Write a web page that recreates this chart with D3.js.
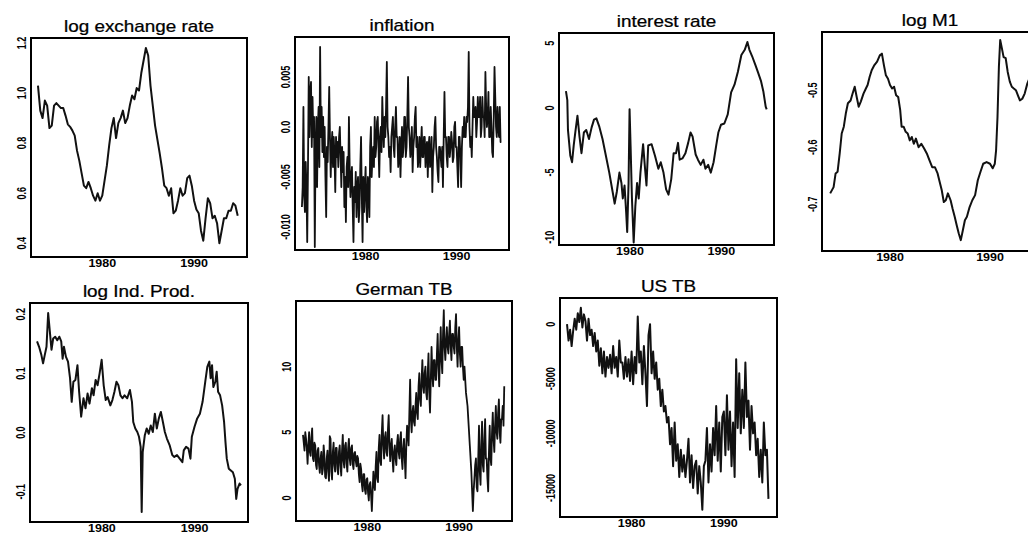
<!DOCTYPE html>
<html>
<head>
<meta charset="utf-8">
<script src="https://cdnjs.cloudflare.com/ajax/libs/d3/7.8.5/d3.min.js"></script>
<style>
  body { margin: 0; background: #fff; }
  svg { display: block; }
</style>
</head>
<body>
<svg id="chart" width="1028" height="535"></svg>
<script>
  // ---- data ----

  // log exchange rate, quarterly from 1973
  var exchangeRate = [
    1.03, 0.93, 0.90, 0.97,   0.95, 0.86, 0.87, 0.95,   0.96, 0.95, 0.94, 0.94,
    0.91, 0.875, 0.865, 0.85, 0.83, 0.77, 0.73, 0.68,   0.63, 0.62, 0.645, 0.62,
    0.59, 0.57, 0.60, 0.57,   0.59, 0.65, 0.71, 0.79,   0.86, 0.90, 0.82, 0.88,
    0.90, 0.93, 0.88, 0.90,   0.95, 0.99, 0.975, 1.02,  1.01, 1.08, 1.13, 1.18,
    1.15, 1.03, 0.95, 0.87,   0.815, 0.76, 0.70, 0.63,  0.62, 0.59, 0.62, 0.52,
    0.53, 0.57, 0.62, 0.59,   0.60, 0.66, 0.67, 0.63,   0.57, 0.535, 0.52, 0.45,
    0.41, 0.50, 0.58, 0.56,   0.50, 0.51, 0.48, 0.40,   0.45, 0.50, 0.50, 0.53,
    0.53, 0.56, 0.55, 0.51
  ];

  // inflation, monthly from 1973
  var inflation = [
    -0.0080, -0.0060, 0.0020, -0.0070, -0.0085, -0.0035, -0.0060, -0.0115, -0.0040, 0.0050, -0.0010, 0.0035,
    0.0045, -0.0020, 0.0030, -0.0010, 0.0010, -0.0120, -0.0020, 0.0010, -0.0060, 0.0000, 0.0020, -0.0040,
    0.0080, -0.0010, 0.0020, -0.0025, 0.0010, -0.0030, 0.0000, -0.0050, -0.0090, -0.0020, -0.0035, 0.0000,
    0.0040, -0.0010, -0.0050, -0.0020, -0.0005, -0.0040, -0.0010, -0.0030, -0.0065, -0.0010, -0.0030, -0.0015,
    -0.0040, -0.0010, 0.0000, -0.0030, -0.0060, -0.0020, -0.0045, -0.0025, -0.0080, -0.0050, -0.0095, -0.0040,
    -0.0030, -0.0060, 0.0010, -0.0040, -0.0070, -0.0050, -0.0040, -0.0080, -0.0115, -0.0060, -0.0075, -0.0045,
    -0.0090, -0.0060, -0.0050, -0.0095, -0.0080, -0.0040, -0.0010, -0.0070, -0.0115, -0.0050, -0.0085, -0.0060,
    -0.0040, -0.0080, -0.0095, -0.0050, -0.0060, -0.0090, -0.0020, 0.0000, -0.0050, -0.0030, -0.0020, -0.0040,
    0.0010, -0.0030, -0.0020, 0.0005, 0.0010, -0.0020, -0.0050, -0.0010, 0.0000, -0.0025, 0.0030, 0.0000,
    -0.0020, 0.0010, -0.0010, 0.0020, 0.0065, 0.0000, -0.0010, -0.0030, -0.0020, -0.0045, -0.0010, 0.0000,
    0.0010, -0.0020, -0.0030, 0.0000, 0.0020, -0.0010, -0.0010, -0.0040, -0.0030, -0.0010, -0.0050, -0.0020,
    0.0000, -0.0030, -0.0020, 0.0010, 0.0010, -0.0030, -0.0020, 0.0010, 0.0050, 0.0000, -0.0010, -0.0030,
    -0.0020, 0.0000, -0.0045, -0.0020, -0.0010, 0.0010, 0.0020, -0.0020, -0.0010, -0.0040, -0.0030, -0.0010,
    -0.0040, -0.0020, 0.0000, -0.0030, -0.0030, -0.0010, -0.0010, -0.0040, -0.0020, -0.0015, -0.0050, -0.0020,
    -0.0010, -0.0040, -0.0030, -0.0010, -0.0065, -0.0030, -0.0020, 0.0000, 0.0010, -0.0020, -0.0030, -0.0045,
    -0.0055, -0.0020, -0.0020, -0.0030, -0.0040, -0.0020, -0.0060, -0.0010, 0.0035, -0.0010, -0.0010, -0.0030,
    -0.0040, -0.0010, -0.0010, -0.0030, -0.0020, -0.0005, -0.0015, -0.0035, -0.0030, 0.0000, 0.0005, -0.0020,
    -0.0020, -0.0040, -0.0060, -0.0010, -0.0010, -0.0030, -0.0060, -0.0020, 0.0000, -0.0010, 0.0010, -0.0010,
    -0.0010, 0.0010, 0.0005, 0.0020, 0.0075, 0.0000, -0.0020, -0.0010, -0.0030, 0.0000, 0.0030, 0.0010,
    0.0010, 0.0020, -0.0010, 0.0005, 0.0030, 0.0010, 0.0010, 0.0030, -0.0010, 0.0000, 0.0030, 0.0010,
    0.0010, -0.0010, 0.0055, 0.0020, 0.0000, 0.0010, 0.0035, -0.0010, -0.0010, 0.0020, 0.0000, -0.0025,
    -0.0030, 0.0010, 0.0060, 0.0030, 0.0000, -0.0010, 0.0020, 0.0000, -0.0010, 0.0020, -0.0015, -0.0015
  ];

  // interest rate, [year, value]
  var interestRate = [
    [1973.00, 1.3], [1973.15, 0.6], [1973.22, -1.7], [1973.48, -3.7], [1973.67, -4.2],
    [1973.85, -2.9], [1974.04, -1.8], [1974.26, -0.6], [1974.48, -2.2], [1974.70, -3.5],
    [1974.96, -1.9], [1975.22, -1.7], [1975.52, -2.4], [1975.81, -1.5], [1976.07, -0.9],
    [1976.33, -0.8], [1976.63, -1.4], [1977.00, -2.4], [1977.37, -3.7], [1977.74, -5.0],
    [1978.11, -6.5], [1978.33, -7.4], [1978.56, -6.5], [1978.85, -5.0], [1979.07, -5.8],
    [1979.22, -7.0], [1979.41, -6.0], [1979.59, -8.1], [1979.70, -9.6], [1979.85, -5.8],
    [1979.96, -0.1], [1980.07, -2.9], [1980.22, -7.0], [1980.41, -10.4], [1980.59, -7.6],
    [1980.78, -5.8], [1980.96, -7.0], [1981.15, -5.0], [1981.44, -2.8], [1981.63, -4.5],
    [1981.81, -6.0], [1982.00, -2.9], [1982.37, -2.8], [1982.74, -3.7], [1983.11, -4.7],
    [1983.37, -4.2], [1983.67, -5.0], [1983.96, -6.3], [1984.22, -6.7], [1984.52, -5.5],
    [1984.78, -3.5], [1985.04, -3.5], [1985.26, -2.7], [1985.44, -4.0], [1985.74, -3.9],
    [1986.07, -3.5], [1986.37, -2.7], [1986.63, -1.9], [1986.85, -2.2], [1987.19, -3.6],
    [1987.44, -4.0], [1987.74, -4.4], [1988.04, -4.0], [1988.26, -4.7], [1988.56, -4.4],
    [1988.85, -5.0], [1989.15, -4.2], [1989.44, -2.9], [1989.67, -1.9], [1989.96, -1.3],
    [1990.33, -1.2], [1990.70, -0.5], [1991.07, 1.2], [1991.44, 1.8], [1991.81, 2.8],
    [1992.19, 4.1], [1992.56, 4.5], [1992.85, 5.1], [1993.07, 4.5], [1993.37, 4.0],
    [1993.74, 3.3], [1994.04, 2.7], [1994.33, 2.1], [1994.59, 1.3], [1994.85, 0.1],
    [1994.96, -0.1]
  ];

  // log M1, [year, value]
  var logM1 = [
    [1974.02, -0.681], [1974.36, -0.670], [1974.56, -0.646], [1974.76, -0.643], [1974.97, -0.611],
    [1975.17, -0.576], [1975.38, -0.564], [1975.58, -0.541], [1975.79, -0.523], [1976.06, -0.518],
    [1976.26, -0.506], [1976.47, -0.494], [1976.67, -0.512], [1976.87, -0.529], [1977.08, -0.520],
    [1977.35, -0.506], [1977.59, -0.497], [1977.76, -0.491], [1977.96, -0.477], [1978.17, -0.465],
    [1978.44, -0.456], [1978.71, -0.450], [1978.98, -0.439], [1979.19, -0.436], [1979.39, -0.456],
    [1979.59, -0.474], [1979.80, -0.480], [1980.00, -0.491], [1980.21, -0.497], [1980.41, -0.494],
    [1980.61, -0.509], [1980.82, -0.512], [1981.02, -0.535], [1981.16, -0.564], [1981.36, -0.564],
    [1981.57, -0.573], [1981.77, -0.576], [1981.98, -0.588], [1982.18, -0.582], [1982.38, -0.594],
    [1982.59, -0.585], [1982.86, -0.600], [1983.13, -0.594], [1983.40, -0.602], [1983.68, -0.611],
    [1983.95, -0.623], [1984.22, -0.635], [1984.49, -0.635], [1984.76, -0.646], [1984.97, -0.661],
    [1985.17, -0.675], [1985.38, -0.696], [1985.58, -0.693], [1985.79, -0.681], [1986.06, -0.693],
    [1986.26, -0.708], [1986.47, -0.722], [1986.67, -0.737], [1986.87, -0.751], [1987.08, -0.763],
    [1987.28, -0.746], [1987.49, -0.728], [1987.69, -0.722], [1987.96, -0.705], [1988.23, -0.693],
    [1988.51, -0.684], [1988.78, -0.658], [1989.05, -0.643], [1989.32, -0.629], [1989.66, -0.626],
    [1990.00, -0.629], [1990.27, -0.637], [1990.48, -0.629], [1990.61, -0.605], [1990.75, -0.547],
    [1990.89, -0.459], [1991.02, -0.412], [1991.16, -0.424], [1991.36, -0.442], [1991.57, -0.444],
    [1991.77, -0.468], [1991.98, -0.485], [1992.18, -0.494], [1992.38, -0.497], [1992.59, -0.500],
    [1992.79, -0.509], [1992.99, -0.518], [1993.23, -0.515], [1993.47, -0.506], [1993.74, -0.488],
    [1994.08, -0.474]
  ];

  // log industrial production, [year, value]
  var logIndProd = [
    [1973.00, 0.154], [1973.22, 0.145], [1973.47, 0.131], [1973.65, 0.117], [1973.83, 0.131],
    [1974.02, 0.145], [1974.20, 0.202], [1974.38, 0.171], [1974.56, 0.140], [1974.74, 0.159],
    [1974.96, 0.162], [1975.18, 0.156], [1975.40, 0.162], [1975.61, 0.154], [1975.76, 0.125],
    [1975.90, 0.145], [1976.12, 0.128], [1976.34, 0.120], [1976.56, 0.092], [1976.74, 0.052],
    [1976.92, 0.086], [1977.14, 0.089], [1977.36, 0.114], [1977.54, 0.069], [1977.76, 0.027],
    [1978.01, 0.058], [1978.23, 0.041], [1978.45, 0.066], [1978.66, 0.049], [1978.92, 0.075],
    [1979.10, 0.063], [1979.32, 0.089], [1979.53, 0.080], [1979.75, 0.100], [1979.97, 0.123],
    [1980.19, 0.080], [1980.41, 0.055], [1980.62, 0.060], [1980.91, 0.046], [1981.13, 0.055],
    [1981.35, 0.069], [1981.57, 0.086], [1981.78, 0.080], [1982.00, 0.063], [1982.22, 0.058],
    [1982.44, 0.063], [1982.73, 0.058], [1983.02, 0.072], [1983.24, 0.052], [1983.38, 0.018],
    [1983.60, 0.007], [1983.82, 0.001], [1984.00, -0.007], [1984.18, -0.024], [1984.29, -0.134],
    [1984.40, -0.033], [1984.62, -0.005], [1984.83, 0.007], [1985.05, -0.002], [1985.27, 0.012],
    [1985.49, 0.001], [1985.71, 0.032], [1985.92, 0.007], [1986.14, 0.024], [1986.36, 0.035],
    [1986.58, 0.018], [1986.79, 0.001], [1987.01, -0.010], [1987.30, -0.021], [1987.59, -0.038],
    [1987.81, -0.041], [1988.10, -0.038], [1988.39, -0.044], [1988.68, -0.050], [1988.83, -0.030],
    [1989.08, -0.024], [1989.34, -0.027], [1989.55, -0.044], [1989.70, -0.007], [1989.99, 0.010],
    [1990.28, 0.024], [1990.57, 0.032], [1990.86, 0.052], [1991.15, 0.086], [1991.37, 0.111],
    [1991.59, 0.120], [1991.73, 0.092], [1991.88, 0.114], [1992.02, 0.077], [1992.24, 0.086],
    [1992.38, 0.103], [1992.53, 0.069], [1992.75, 0.063], [1992.97, 0.046], [1993.18, 0.018],
    [1993.33, -0.016], [1993.47, -0.044], [1993.69, -0.061], [1993.91, -0.064], [1994.13, -0.067],
    [1994.34, -0.078], [1994.49, -0.112], [1994.63, -0.095], [1994.85, -0.086], [1995.00, -0.089]
  ];

  // German trade balance, monthly from 1973
  var germanTB = [
    4.8, 4.2, 3.6, 5.0, 4.5, 3.8, 2.6, 4.0, 5.0, 3.5, 3.2, 4.6,
    5.3, 3.0, 2.8, 4.2, 4.0, 2.5, 2.2, 3.6, 3.8, 2.5, 1.9, 3.0,
    3.5, 1.8, 2.2, 4.0, 3.2, 1.6, 1.5, 3.0, 3.6, 2.0, 1.3, 4.7,
    4.5, 2.0, 1.4, 3.5, 4.2, 2.5, 2.0, 3.8, 3.8, 2.2, 1.8, 3.5,
    4.0, 2.5, 1.7, 3.6, 4.8, 2.8, 2.3, 4.0, 4.2, 2.6, 2.0, 3.8,
    4.5, 3.0, 2.5, 3.8, 4.0, 2.6, 2.2, 3.4, 3.5, 2.8, 2.4, 3.2,
    3.0, 1.8, 1.2, 2.6, 2.2, 1.0, 0.5, 1.8, 1.8, 0.6, 0.3, 1.4,
    1.5, 0.4, -0.2, 1.0, 1.2, 0.2, -1.0, 0.5, 2.0, 1.0, 0.6, 2.4,
    3.5, 1.5, 1.2, 3.8, 4.8, 2.8, 2.5, 5.0, 6.3, 4.0, 3.0, 4.6,
    5.0, 3.5, 3.2, 5.2, 6.3, 4.0, 2.8, 4.0, 4.5, 3.0, 2.0, 3.5,
    4.0, 3.0, 2.5, 4.2, 4.8, 3.5, 3.0, 4.5, 5.0, 3.0, 2.2, 3.8,
    4.5, 3.0, 1.5, 4.0, 5.5, 5.0, 4.0, 6.5, 9.0, 6.0, 5.0, 6.5,
    7.0, 5.8, 5.5, 7.0, 8.0, 6.5, 6.0, 8.5, 9.5, 7.5, 7.0, 9.0,
    10.5, 8.5, 8.0, 9.5, 10.0, 8.0, 7.5, 9.5, 11.0, 8.0, 6.5, 9.0,
    11.5, 9.5, 8.5, 10.5, 10.5, 9.0, 9.0, 11.0, 12.5, 10.0, 8.5, 11.0,
    13.0, 10.5, 9.5, 12.5, 14.3, 11.5, 10.5, 12.0, 13.0, 11.5, 11.0, 12.5,
    13.5, 11.5, 10.5, 12.5, 12.5, 11.5, 11.0, 13.0, 14.0, 11.5, 10.0, 12.0,
    13.0, 11.0, 10.0, 11.5, 11.5, 10.0, 9.0, 10.0, 9.0, 8.0, 7.5, 7.0,
    6.0, 5.0, 4.0, 3.0, 2.0, 0.5, -1.0, 0.5, 1.5, 2.5, 3.0, 0.8,
    0.5, 3.0, 5.5, 2.0, 1.0, 4.0, 5.8, 2.5, 2.0, 4.5, 6.0, 3.0,
    3.0, 1.5, 0.5, 3.5, 5.5, 3.0, 2.5, 5.0, 6.5, 4.5, 3.5, 5.5,
    7.0, 5.0, 4.5, 6.5, 7.5, 5.0, 4.2, 6.0, 6.0, 7.0, 5.5, 8.5
  ];

  // US trade balance, every two months from 1973
  var usTB = [
    0, -1500, -500, -2000, -600, 500,
    -500, 1000, 200, 1500, -300, 900,
    300, -1500, 500, -1000, -500, -2000,
    -800, -2500, -1500, -3800, -2200, -4500,
    -2500, -4800, -3000, -4000, -2800, -4500,
    -2000, -4000, -3000, -4800, -1500, -3500,
    -3500, -5000, -3000, -4800, -3200, -5200,
    -2500, -5500, -3000, -4500, 700, -3500,
    -2500, -5500, -2000, -4500, -7500, -1000,
    0, -4500, -2500, -5000, -3500, -6000,
    -5000, -7500, -6000, -8000, -7500, -9000,
    -8500, -11000, -9500, -13000, -9000, -12500,
    -11000, -14000, -11500, -13500, -12000, -14000,
    -12500, -10500, -14500, -12000, -15000, -13000,
    -12500, -15500, -13000, -14500, -17000, -13000,
    -12500, -9500, -14500, -11000, -13500, -9500,
    -12000, -7500, -12500, -9000, -13500, -8500,
    -8000, -12000, -6500, -11500, -8000, -13000,
    -9000, -14000, -3200, -9500, -4500, -10000,
    -6000, -9500, -3500, -8500, -7000, -11500,
    -7500, -10000, -9000, -12000, -10500, -14000,
    -11500, -14500, -9000, -12000, -11500, -16000
  ];

  // axis ticks
  var yearTicks = [1980, 1990];
  var exchangeTicks = [0.4, 0.6, 0.8, 1.0, 1.2];
  var exchangeLabels = ["0.4", "0.6", "0.8", "1.0", "1.2"];
  var inflationTicks = [-0.010, -0.005, 0.0, 0.005];
  var inflationLabels = ["-0.010", "-0.005", "0.0", "0.005"];
  var interestTicks = [-10, -5, 0, 5];
  var interestLabels = ["-10", "-5", "0", "5"];
  var m1Ticks = [-0.7, -0.6, -0.5];
  var m1Labels = ["-0.7", "-0.6", "-0.5"];
  var indProdTicks = [-0.1, 0.0, 0.1, 0.2];
  var indProdLabels = ["-0.1", "0.0", "0.1", "0.2"];
  var germanTicks = [0, 5, 10];
  var germanLabels = ["0", "5", "10"];
  var usTicks = [-15000, -10000, -5000, 0];
  var usLabels = ["-15000", "-10000", "-5000", "0"];

  // regular series -> [year, value]
  function regular(start, step, values) {
    return values.map(function(v, i) { return [start + i * step, v]; });
  }

  var fullSpan = [1972.24, 1995.76];

  var panels = [
    { title: "log  exchange rate", data: regular(1973, 0.25, exchangeRate),
      box: [31, 247, 38, 257], xDomain: fullSpan, yDomain: [0.345, 1.22],
      ticks: exchangeTicks, labels: exchangeLabels, width: 2 },
    { title: "inflation", data: regular(1973, 1 / 12, inflation),
      box: [295, 509, 37, 250], xDomain: fullSpan, yDomain: [-0.0123, 0.0090],
      ticks: inflationTicks, labels: inflationLabels, width: 1.8 },
    { title: "interest rate", data: interestRate,
      box: [559, 774, 33, 245], xDomain: fullSpan, yDomain: [-10.6, 5.8],
      ticks: interestTicks, labels: interestLabels, width: 2 },
    { title: "log M1", data: logM1,
      box: [822, 1038, 32, 251], xDomain: [1973.2, 1994.8], yDomain: [-0.782, -0.398],
      ticks: m1Ticks, labels: m1Labels, width: 2 },
    { title: "log Ind. Prod.", data: logIndProd,
      box: [30, 248, 303, 522], xDomain: fullSpan, yDomain: [-0.151, 0.219],
      ticks: indProdTicks, labels: indProdLabels, width: 2 },
    { title: "German TB", data: regular(1973, 1 / 12, germanTB),
      box: [296, 512, 301, 521], xDomain: fullSpan, yDomain: [-1.76, 15.0],
      ticks: germanTicks, labels: germanLabels, width: 1.8 },
    { title: "US  TB", data: regular(1973, 1 / 6, usTB),
      box: [560, 777, 298, 517], xDomain: fullSpan, yDomain: [-17660, 2400],
      ticks: usTicks, labels: usLabels, width: 2 }
  ];

  var svg = d3.select("#chart");
  svg.append("rect").attr("width", 1028).attr("height", 535).attr("fill", "#fff");

  panels.forEach(function(p, i) { drawPanel(p, i); });

  function drawPanel(p, i) {
    var left = p.box[0], right = p.box[1], top = p.box[2], bottom = p.box[3];

    var x = d3.scaleLinear().domain(p.xDomain).range([left, right]);
    var y = d3.scaleLinear().domain(p.yDomain).range([bottom, top]);

    var g = svg.append("g").attr("class", "panel");

    g.append("clipPath").attr("id", "clip" + i)
      .append("rect")
        .attr("x", left).attr("y", top)
        .attr("width", right - left).attr("height", bottom - top);

    var line = d3.line()
        .x(function(d) { return x(d[0]); })
        .y(function(d) { return y(d[1]); });

    g.append("path")
        .datum(p.data)
        .attr("clip-path", "url(#clip" + i + ")")
        .attr("fill", "none")
        .attr("stroke", "#111")
        .attr("stroke-width", p.width)
        .attr("stroke-linejoin", "round")
        .attr("d", line);

    // frame
    g.append("rect")
        .attr("x", left).attr("y", top)
        .attr("width", right - left).attr("height", bottom - top)
        .attr("fill", "none")
        .attr("stroke", "#000")
        .attr("stroke-width", 2);

    // title
    g.append("text")
        .attr("transform", "translate(" + ((left + right) / 2) + "," + (top - 6) + ") scale(1.18,1)")
        .attr("text-anchor", "middle")
        .style("font-family", "'Liberation Sans', Arial, sans-serif")
        .style("font-size", "16px")
        .attr("fill", "#000")
        .attr("stroke", "#000")
        .attr("stroke-width", 0.25)
        .text(p.title);

    // x labels
    g.selectAll(".xlab")
        .data(yearTicks)
      .enter().append("text")
        .attr("class", "xlab")
        .attr("transform", function(d) { return "translate(" + x(d) + "," + (bottom + 10) + ") scale(1.25,1)"; })
        .attr("text-anchor", "middle")
        .style("font-family", "'Liberation Sans', Arial, sans-serif")
        .style("font-size", "10px")
        .style("font-weight", "bold")
        .text(function(d) { return d; });

    // y labels (rotated, reading upwards)
    g.selectAll(".ylab")
        .data(p.ticks)
      .enter().append("text")
        .attr("class", "ylab")
        .attr("transform", function(d) { return "translate(" + (left - 5) + "," + y(d) + ") rotate(-90) scale(0.9,1.25)"; })
        .attr("text-anchor", "middle")
        .style("font-family", "'Liberation Sans', Arial, sans-serif")
        .style("font-size", "10px")
        .style("font-weight", "bold")
        .text(function(d, k) { return p.labels[k]; });
  }
</script>
</body>
</html>
